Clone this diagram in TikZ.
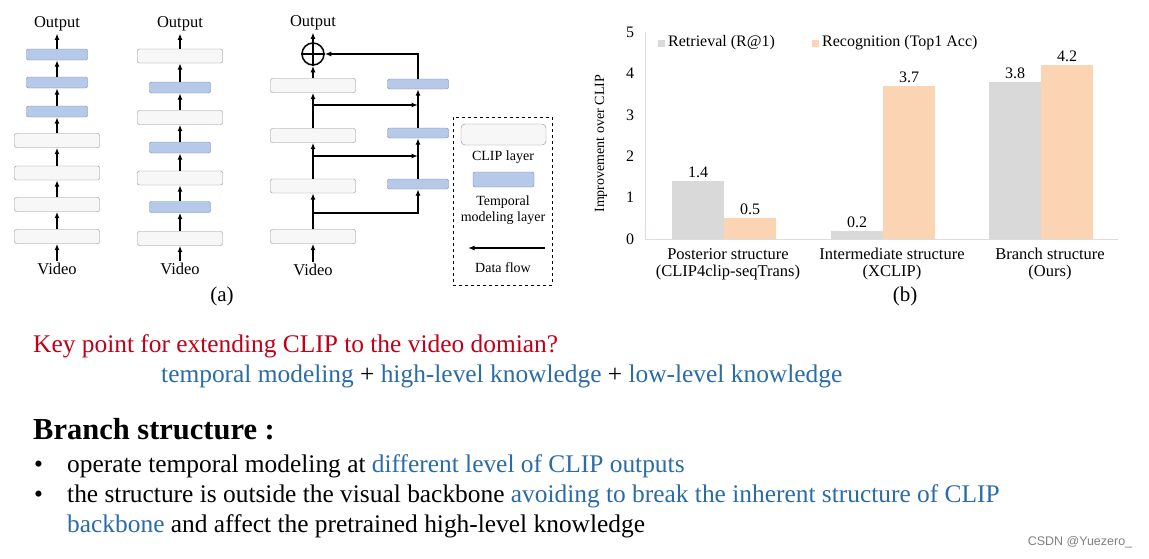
\documentclass[tikz,border=0pt]{standalone}
\usepackage{fontspec}
\setmainfont{Liberation Serif}
\setsansfont{Liberation Sans}
\usetikzlibrary{arrows.meta,positioning}

\definecolor{clipfill}{HTML}{F7F7F7}
\definecolor{clipedge}{HTML}{8E8E8E}
\definecolor{tempfill}{HTML}{B7C9E8}
\definecolor{tempedge}{HTML}{7389AE}
\definecolor{retrfill}{HTML}{D9D9D9}
\definecolor{recofill}{HTML}{FBD4B4}
\definecolor{keyred}{HTML}{C00018}
\definecolor{textblue}{HTML}{2B6CA6}
\definecolor{axisgray}{HTML}{E3DADA}

\newcommand{\bluetxt}[1]{\textcolor{textblue}{#1}}
\newcommand{\fsz}[1]{\fontsize{#1}{#1}\selectfont}

\tikzset{
  cliplayer/.style={draw=clipedge,fill=clipfill,rounded corners=2pt,minimum width=85pt,minimum height=14pt,inner sep=0pt},
  templayer/.style={draw=tempedge,fill=tempfill,rounded corners=2pt,minimum width=61pt,minimum height=11pt,inner sep=0pt},
  flow/.style={-{Latex[length=6.5pt,width=5pt]},line width=1.3pt},
  io/.style={font=\fsz{16.5},inner sep=2pt},
  leglbl/.style={font=\fsz{14},inner sep=1pt},
  chartlbl/.style={font=\fsz{16},inner sep=2pt},
  bodyline/.style={font=\fsz{25.4},anchor=base west,inner sep=0pt},
}

\begin{document}
\begin{tikzpicture}[x=1pt,y=-1pt]
  \useasboundingbox (0,0) rectangle (1149,558);
  \fill[white] (0,0) rectangle (1149,558);

  % (a) posterior structure
  \node[io] (out1) at (57,24) {Output};
  \node[templayer] (a1) at (57,54.5) {};
  \node[templayer] (a2) at (57,82.5) {};
  \node[templayer] (a3) at (57,111.5) {};
  \node[cliplayer] (a4) at (57,140.5) {};
  \node[cliplayer] (a5) at (57,173) {};
  \node[cliplayer] (a6) at (57,204.5) {};
  \node[cliplayer] (a7) at (57,236.5) {};
  \node[io] (vid1) at (57,269) {Video};
  \foreach \lo/\hi in {vid1/a7,a7/a6,a6/a5,a5/a4,a4/a3,a3/a2,a2/a1,a1/out1}
    \draw[flow] (\lo) -- (\hi);

  % (a) intermediate structure
  \node[io] (out2) at (180,24) {Output};
  \node[cliplayer] (b1) at (180,56) {};
  \node[templayer] (b2) at (180,87.5) {};
  \node[cliplayer] (b3) at (180,117.5) {};
  \node[templayer] (b4) at (180,147.5) {};
  \node[cliplayer] (b5) at (180,178) {};
  \node[templayer] (b6) at (180,207) {};
  \node[cliplayer] (b7) at (180,238.5) {};
  \node[io] (vid2) at (180,269) {Video};
  \foreach \lo/\hi in {vid2/b7,b7/b6,b6/b5,b5/b4,b4/b3,b3/b2,b2/b1,b1/out2}
    \draw[flow] (\lo) -- (\hi);

  % (a) branch structure
  \node[io] (out3) at (313,23) {Output};
  \node[circle,draw,line width=1.5pt,minimum size=22pt,inner sep=0pt] (sum) at (313,54) {};
  \draw[line width=1.3pt] (sum.north) -- (sum.south) (sum.west) -- (sum.east);
  \node[cliplayer] (c1) at (313,85.5) {};
  \node[cliplayer] (c2) at (313,135.5) {};
  \node[cliplayer] (c3) at (313,186) {};
  \node[cliplayer] (c4) at (313,236.5) {};
  \node[io] (vid3) at (313,270) {Video};
  \node[templayer,minimum height=10pt] (t3) at (418,84) {};
  \node[templayer,minimum height=10pt] (t2) at (418,133) {};
  \node[templayer,minimum height=10pt] (t1) at (418,184) {};
  \foreach \lo/\hi in {vid3/c4,c4/c3,c3/c2,c2/c1,c1/sum,sum/out3,t1/t2,t2/t3}
    \draw[flow] (\lo) -- (\hi);
  \coordinate (br1) at (313,213);
  \coordinate (br2) at (313,156);
  \coordinate (br3) at (313,105);
  \draw[flow] (br1) -| (t1);
  \draw[flow] (br2) -- (br2 -| t2);
  \draw[flow] (br3) -- (br3 -| t3);
  \draw[flow] (t3) |- (sum);

  % legend
  \node[draw,dashed,line width=1pt,minimum width=99pt,minimum height=168pt] (legend) at (502.5,201) {};
  \node[cliplayer,minimum width=85pt,minimum height=21pt,rounded corners=4pt] (legclip) at (503.5,134.5) {};
  \node[leglbl] (legcliptxt) at (503,157) {CLIP layer};
  \node[templayer,minimum width=61pt,minimum height=15pt] (legtemp) at (503.5,179.5) {};
  \node[leglbl,align=center,font=\fontsize{14}{16}\selectfont] (legtemptxt) at (503,210) {Temporal\\modeling layer};
  \coordinate (legflowa) at (545,248);
  \coordinate (legflowb) at (468,248);
  \draw[flow] (legflowa) -- (legflowb);
  \node[leglbl] (legflowtxt) at (503,268) {Data flow};
  \node[font=\fsz{21}] (capa) at (222,296) {(a)};

  % (b) bar chart
  \begin{scope}[yshift=-239pt,y=41.4pt]
    \draw[axisgray,line width=0.8pt] (645,0) -- (645,5);
    \draw[axisgray,line width=0.8pt] (645,0) -- (1118,0);
    \foreach \v in {0,...,5}
      \node[chartlbl] (tick\v) at (630,\v) {\v};
    \foreach \xl/\va/\vb [count=\i] in {672/1.4/0.5,831/0.2/3.7,989/3.8/4.2} {
      \fill[retrfill] (\xl,0) rectangle ++(52,\va);
      \fill[recofill] (\xl+52,0) rectangle ++(52,\vb);
      \node[chartlbl,above=1pt] (retr\i) at (\xl+26,\va) {\va};
      \node[chartlbl,above=1pt] (reco\i) at (\xl+78,\vb) {\vb};
    }
    \node[rotate=90,font=\fsz{14}] (ylab) at (601,2.3) {Improvement over CLIP};
  \end{scope}
  \node[fill=retrfill,minimum size=7pt,inner sep=0pt] (keyretr) at (661,43) {};
  \node[chartlbl,anchor=west] (keyretrtxt) at (666,43) {Retrieval (R@1)};
  \node[fill=recofill,minimum size=7pt,inner sep=0pt] (keyreco) at (815,43) {};
  \node[chartlbl,anchor=west] (keyrecotxt) at (820,43) {Recognition (Top1 Acc)};
  \node[align=center,font=\fontsize{16.5}{17}\selectfont] (cat1) at (728,264) {Posterior structure\\(CLIP4clip-seqTrans)};
  \node[align=center,font=\fontsize{16.5}{17}\selectfont] (cat2) at (892,264) {Intermediate structure\\(XCLIP)};
  \node[align=center,font=\fontsize{16.5}{17}\selectfont] (cat3) at (1050,264) {Branch structure\\(Ours)};
  \node[font=\fsz{21}] (capb) at (905,296) {(b)};

  % text below
  \node[bodyline,text=keyred] (keypoint) at (33,352) {Key point for extending CLIP to the video domian?};
  \node[bodyline] (needs) at (161,382) {\bluetxt{temporal modeling} + \bluetxt{high-level knowledge} + \bluetxt{low-level knowledge}};
  \node[bodyline,font=\bfseries\fsz{30.5}] (branch) at (33,439) {Branch structure :};
  \node[bodyline] (dot1) at (34,472) {\textbullet};
  \node[bodyline] (item1) at (67,472) {operate temporal modeling at \bluetxt{different level of CLIP outputs}};
  \node[bodyline] (dot2) at (34,502) {\textbullet};
  \node[bodyline] (item2) at (67,502) {the structure is outside the visual backbone \bluetxt{avoiding to break the inherent structure of CLIP}};
  \node[bodyline] (item3) at (67,532) {\bluetxt{backbone} and affect the pretrained high-level knowledge};
  \node[font=\sffamily\fsz{12.5},text=black!50] (mark) at (1080,542) {CSDN @Yuezero\_};
\end{tikzpicture}
\end{document}
